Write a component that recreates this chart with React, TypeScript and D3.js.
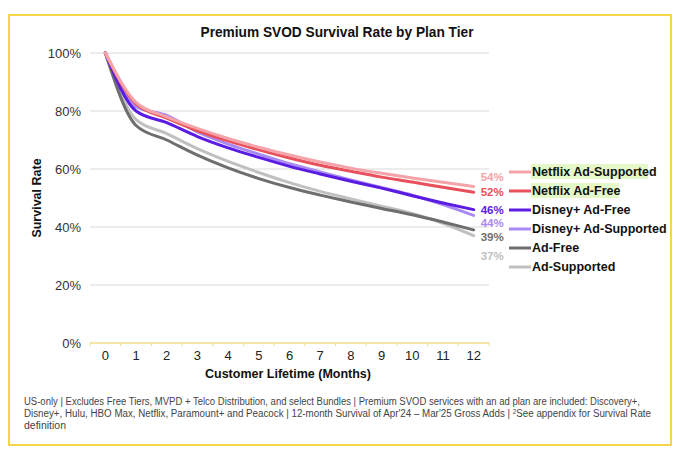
import * as d3 from 'd3'

const MONTHS = ['0', '1', '2', '3', '4', '5', '6', '7', '8', '9', '10', '11', '12']
const Y_TICKS = [0, 0.2, 0.4, 0.6, 0.8, 1]

const SERIES_NAMES = [
  'Netflix Ad-Supported',
  'Netflix Ad-Free',
  'Disney+ Ad-Free',
  'Disney+ Ad-Supported',
  'Ad-Free',
  'Ad-Supported',
]
const SERIES_COLORS = ['#f4a3a9', '#e8505b', '#5a1be3', '#a98af2', '#6e6e6e', '#c0c0c0']
const HIGHLIGHT = [true, true, false, false, false, false]

const NETFLIX_AD_SUPPORTED = [1, 0.83, 0.78, 0.74, 0.705, 0.675, 0.648, 0.624, 0.603, 0.585, 0.569, 0.554, 0.54]
const NETFLIX_AD_FREE = [1, 0.825, 0.775, 0.732, 0.697, 0.666, 0.638, 0.613, 0.592, 0.572, 0.555, 0.537, 0.52]
const DISNEY_AD_FREE = [1, 0.8, 0.76, 0.712, 0.673, 0.64, 0.609, 0.583, 0.558, 0.534, 0.508, 0.483, 0.46]
const DISNEY_AD_SUPPORTED = [1, 0.815, 0.785, 0.728, 0.686, 0.651, 0.618, 0.59, 0.562, 0.536, 0.51, 0.477, 0.44]
const AD_FREE = [1, 0.75, 0.7, 0.648, 0.604, 0.567, 0.536, 0.51, 0.486, 0.464, 0.442, 0.417, 0.39]
const AD_SUPPORTED = [1, 0.77, 0.722, 0.67, 0.626, 0.588, 0.553, 0.523, 0.497, 0.472, 0.447, 0.413, 0.37]

const SERIES = [NETFLIX_AD_SUPPORTED, NETFLIX_AD_FREE, DISNEY_AD_FREE, DISNEY_AD_SUPPORTED, AD_FREE, AD_SUPPORTED]
// end label vertical nudges so they don't collide
const END_LABEL_OFFSET = [-9, 0, 0, 7.5, 7.5, 20]

const W = 680
const H = 453
const PLOT = { left: 90, right: 489, top: 53, bottom: 343 }
const FONT = "'Liberation Sans', Arial, sans-serif"

export default function App() {
  const x = d3.scaleBand<string>().domain(MONTHS).range([PLOT.left, PLOT.right]).padding(0)
  const y = d3.scaleLinear().domain([0, 1]).range([PLOT.bottom, PLOT.top])
  const cx = (i: number) => (x(MONTHS[i]) ?? 0) + x.bandwidth() / 2

  const line = d3
    .line<number>()
    .x((_d, i) => cx(i))
    .y((d) => y(d))
    .curve(d3.curveMonotoneX)

  const lastX = cx(MONTHS.length - 1)
  const legendX = 509
  const legendY0 = 172
  const legendStep = 19

  // draw order: grays first, then disney, then netflix on top
  const drawOrder = [5, 4, 3, 2, 1, 0]

  return (
    <svg
      width={W}
      height={H}
      style={{ position: 'absolute', left: 0, top: 0, background: '#fff' }}
      fontFamily={FONT}
    >
      <rect x={9} y={15} width={662} height={430} fill="none" stroke="#f5d54a" strokeWidth={2} />

      <text x={337} y={37} textAnchor="middle" fontWeight="bold" fontSize={14} fill="#111" textLength={273} lengthAdjust="spacingAndGlyphs">
        Premium SVOD Survival Rate by Plan Tier
      </text>

      {Y_TICKS.map((t) => (
        <g key={t}>
          {t > 0 && (
            <line x1={PLOT.left} x2={PLOT.right} y1={y(t)} y2={y(t)} stroke="#d9d9d9" strokeWidth={1} />
          )}
          <text x={81} y={y(t)} dy="0.35em" textAnchor="end" fontSize={13} fill="#333">
            {d3.format('.0%')(t)}
          </text>
        </g>
      ))}

      <line x1={PLOT.left} x2={PLOT.right} y1={PLOT.bottom} y2={PLOT.bottom} stroke="#f3dc8c" strokeWidth={1.5} />
      {MONTHS.concat(['end']).map((m, i) => {
        const tx = i < MONTHS.length ? (x(m) ?? 0) : PLOT.right
        return <line key={'t' + i} x1={tx} x2={tx} y1={PLOT.bottom} y2={PLOT.bottom + 3} stroke="#f3dc8c" strokeWidth={1} />
      })}
      {MONTHS.map((m, i) => (
        <text key={m} x={cx(i)} y={PLOT.bottom + 17} textAnchor="middle" fontSize={13} fill="#222">
          {m}
        </text>
      ))}

      <text x={288} y={378} textAnchor="middle" fontWeight="bold" fontSize={12.5} fill="#111">
        Customer Lifetime (Months)
      </text>
      <text
        transform={`translate(41,${(PLOT.top + PLOT.bottom) / 2}) rotate(-90)`}
        textAnchor="middle"
        fontWeight="bold"
        fontSize={12.5}
        fill="#111"
      >
        Survival Rate
      </text>

      {drawOrder.map((s) => (
        <path key={s} d={line(SERIES[s]) ?? ''} fill="none" stroke={SERIES_COLORS[s]} strokeWidth={3} strokeLinecap="round" />
      ))}

      {SERIES.map((vals, s) => (
        <text
          key={'end' + s}
          x={lastX + 7}
          y={y(vals[vals.length - 1]) + END_LABEL_OFFSET[s]}
          dy="0.35em"
          fontWeight="bold"
          fontSize={11.5}
          fill={SERIES_COLORS[s]}
        >
          {d3.format('.0%')(vals[vals.length - 1])}
        </text>
      ))}

      {SERIES_NAMES.map((name, s) => {
        const ly = legendY0 + s * legendStep
        return (
          <g key={name}>
            <line x1={legendX} x2={legendX + 22} y1={ly} y2={ly} stroke={SERIES_COLORS[s]} strokeWidth={3} />
            {HIGHLIGHT[s] && <rect x={legendX + 22} y={ly - 8} width={name.length * 5.85} height={15} fill="#e5f8c8" />}
            <text x={legendX + 23} y={ly} dy="0.35em" fontWeight="bold" fontSize={12.5} fill="#111">
              {name}
            </text>
          </g>
        )
      })}

      <g fontSize={10} fill="#444">
        <text x={24} y={405} textLength={616} lengthAdjust="spacingAndGlyphs">
          US-only | Excludes Free Tiers, MVPD + Telco Distribution, and select Bundles | Premium SVOD services with an ad plan are included: Discovery+,
        </text>
        <text x={24} y={417} textLength={627} lengthAdjust="spacingAndGlyphs">
          Disney+, Hulu, HBO Max, Netflix, Paramount+ and Peacock | 12-month Survival of Apr'24 – Mar'25 Gross Adds |{' '}
          <tspan fontSize={6.5} dy={-3}>2</tspan>
          <tspan dy={3}>See appendix for Survival Rate</tspan>
        </text>
        <text x={24} y={429} textLength={42} lengthAdjust="spacingAndGlyphs">
          definition
        </text>
      </g>
    </svg>
  )
}
